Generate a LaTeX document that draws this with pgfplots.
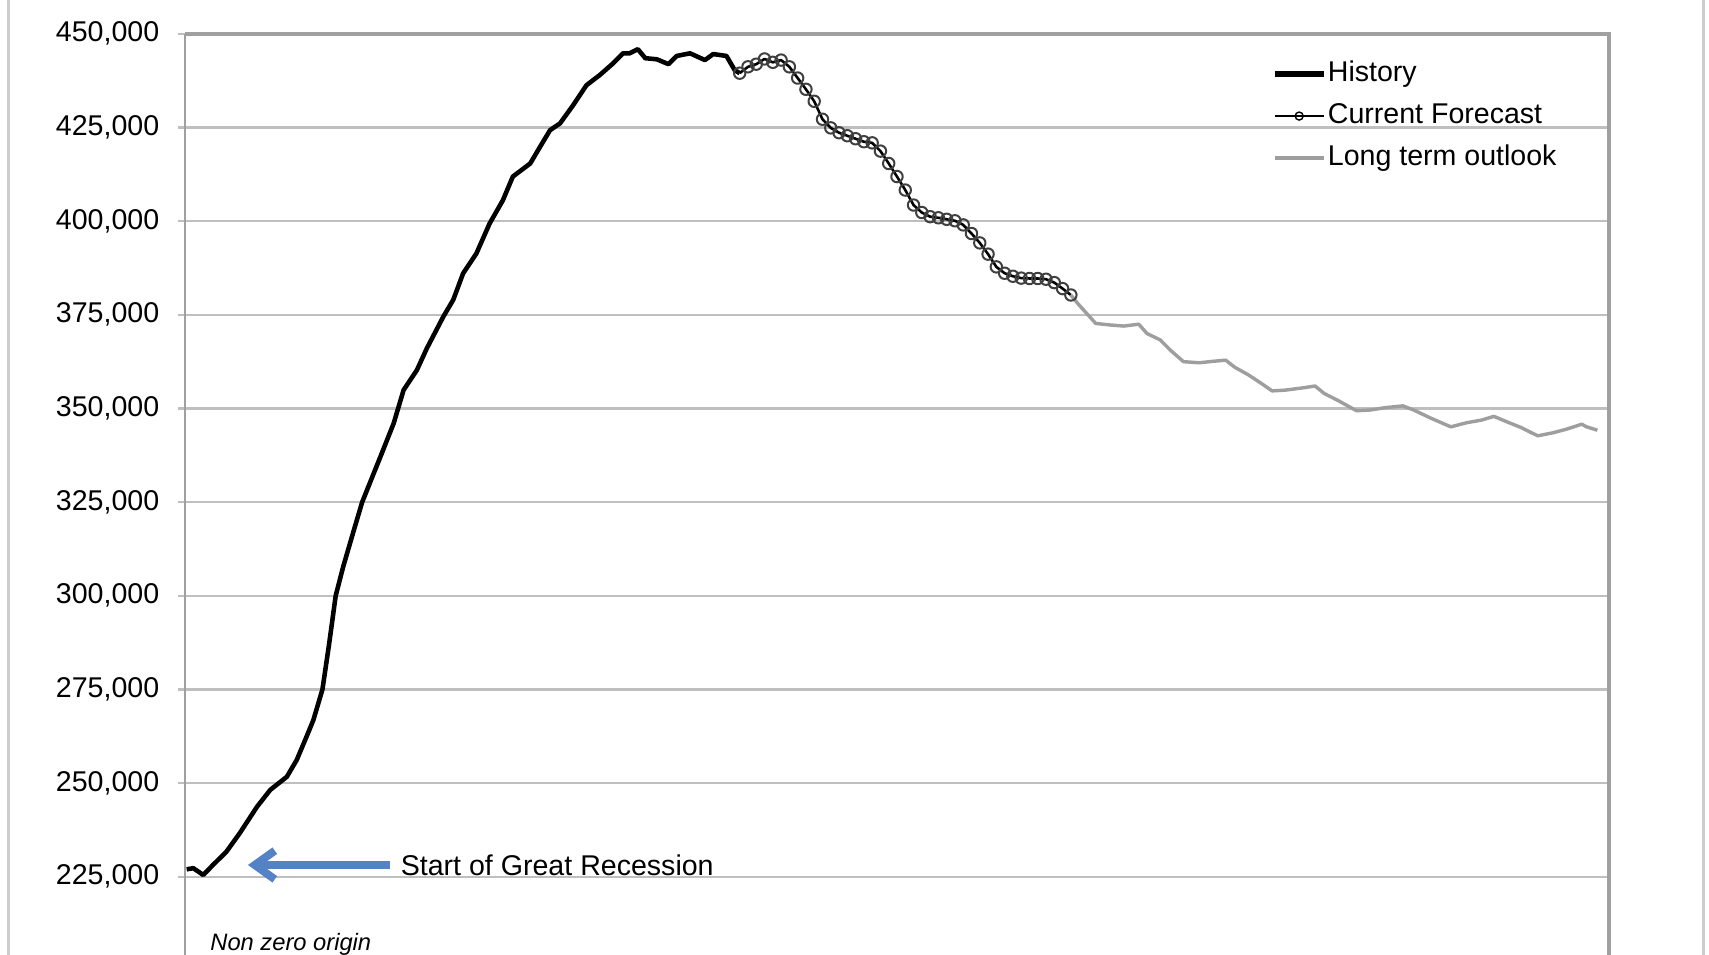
\documentclass[border=0pt]{standalone}
\usepackage{fontspec}
\setmainfont{Liberation Sans}
\usepackage{pgfplots}
\pgfplotsset{compat=1.18}
\usetikzlibrary{arrows.meta}
\definecolor{gridgray}{RGB}{191,191,191}
\definecolor{framegray}{RGB}{160,160,160}
\definecolor{outlook}{RGB}{158,158,158}
\definecolor{arrowblue}{RGB}{84,130,196}
\definecolor{pagegray}{RGB}{205,205,205}

\begin{document}
\begin{tikzpicture}[font=\fontsize{10}{12}\selectfont]
\begin{axis}[
  at={(0pt,0pt)}, anchor=south west,
  width=498.4pt, height=322.4pt, scale only axis,
  xmin=0, xmax=172,
  ymin=204130, ymax=450000,
  xtick=\empty,
  ytick={225000,250000,...,450000},
  ytick pos=left,
  scaled y ticks=false,
  /pgf/number format/fixed,
  /pgf/number format/1000 sep={,},
  /pgf/number format/assume math mode=true,
  tick label style={font=\fontsize{10}{12}\selectfont},
  yticklabel shift=3pt,
  tick align=outside,
  major tick length=2.5pt,
  ytick style={gridgray, line width=0.8pt},
  ymajorgrids,
  grid style={gridgray, line width=0.8pt},
  axis line style={draw=none},
  clip=false,
  legend style={at={(axis description cs:0.7631,0.972)}, anchor=north west,
    draw=none, fill=none, inner sep=0pt, row sep=5pt,
    nodes={inner sep=0pt, text height=7.5pt, text depth=2.2pt},
    font=\fontsize{10}{12}\selectfont,
    /tikz/every odd column/.append style={column sep=0.6pt}},
  legend cell align=left,
]
\addlegendimage{black, line width=1.8pt}
\addlegendentry{History}
\addlegendimage{black, line width=0.5pt, mark=o, mark size=1.4pt, mark options={line width=0.5pt}}
\addlegendentry{Current Forecast}
\addlegendimage{outlook, line width=1.2pt}
\addlegendentry{Long term outlook}

% history (months from left edge)
\addplot[forget plot, black, line width=1.6pt, line join=round] coordinates {
(0.2,227000) (1.0,227300) (2.2,225500) (3.4,228200) (5.0,231700) (6.6,236600)
(8.7,243700) (10.3,248200) (12.3,251700) (13.5,256200) (14.7,262500) (15.5,266800)
(16.6,275000) (17.4,287000) (18.2,300000) (19.1,307700) (20.3,316800) (21.4,325000)
(23.6,337100) (25.2,346000) (26.4,354900) (28.0,360200) (29.2,366000) (31.2,374500)
(32.4,379000) (33.6,386100) (35.2,391400) (36.8,399400) (38.4,405600) (39.6,411900)
(41.7,415400) (42.9,419900) (44.1,424300) (45.3,426100) (46.9,431000) (48.5,436300)
(50.1,439000) (51.7,442100) (52.9,444800) (53.7,444800) (54.7,445900) (55.6,443500)
(57.0,443200) (58.4,441900) (59.4,444100) (61.0,444800) (62.8,443000) (63.8,444600)
(65.4,444100) (66.4,440300) (67.0,439500)
};

% current forecast
\addplot[forget plot, black, line width=0.9pt, line join=round, mark=o, mark size=2pt,
  mark options={black!75, line width=0.7pt}] coordinates {
(67,439500) (68,441200) (69,441900) (70,443300) (71,442400) (72,443000)
(73,441200) (74,438200) (75,435200) (76,432000) (77,427200) (78,424900)
(79,423600) (80,422800) (81,422000) (82,421200) (83,420900) (84,418700)
(85,415400) (86,411900) (87,408300) (88,404300) (89,402300) (90,401200)
(91,400900) (92,400500) (93,400100) (94,399000) (95,396700) (96,394200)
(97,391200) (98,387800) (99,386100) (100,385300) (101,384800) (102,384700)
(103,384700) (104,384500) (105,383600) (106,382000) (107,380300)
};

% long term outlook
\addplot[forget plot, outlook, line width=1.2pt, line join=round] coordinates {
(107,380300) (107.8,378100) (108.9,375400) (110.0,372700) (111.7,372300)
(113.4,372000) (115.2,372500) (116.2,370000) (117.8,368300) (119.0,365600)
(120.6,362500) (122.5,362200) (124.2,362600) (125.7,362900) (126.8,361000)
(128.5,358900) (130.0,356700) (131.3,354700) (132.9,354900) (135.0,355500)
(136.5,356000) (137.6,354000) (139.3,352100) (141.5,349400) (143.2,349600)
(144.9,350200) (147.1,350700) (148.4,349600) (150.5,347400) (152.9,345100)
(154.8,346200) (156.6,346900) (158.1,347900) (159.6,346500) (161.3,345000)
(163.4,342700) (165.2,343500) (166.9,344500) (168.7,345800) (169.3,345100)
(170.6,344200)
};

% plot area frame
\draw[framegray, line width=0.7pt] (rel axis cs:0,0) -- (rel axis cs:0,1);
\draw[framegray, line width=1.4pt] (rel axis cs:0,1) -- (rel axis cs:1,1) -- (rel axis cs:1,0);

% annotations
\draw[arrowblue, line width=2.8pt, -{Straight Barb[length=7pt,width=10pt]}]
  (axis cs:24.8,228150) -- (axis cs:7.6,228150);
\node[anchor=west, inner sep=0pt] at (axis cs:26,228150) {Start of Great Recession};
\node[anchor=west, inner sep=0pt, font=\fontsize{8.3}{10}\selectfont\itshape]
  at (axis cs:3,207070) {Non zero origin};
\end{axis}
\draw[pagegray, line width=1pt] (-61.8pt,0pt) -- (-61.8pt,334.25pt);
\draw[pagegray, line width=1pt] (531.6pt,0pt) -- (531.6pt,334.25pt);
\pgfresetboundingbox
\path[use as bounding box] (-64.75pt,0pt) rectangle (533.4pt,334.25pt);
\end{tikzpicture}
\end{document}
